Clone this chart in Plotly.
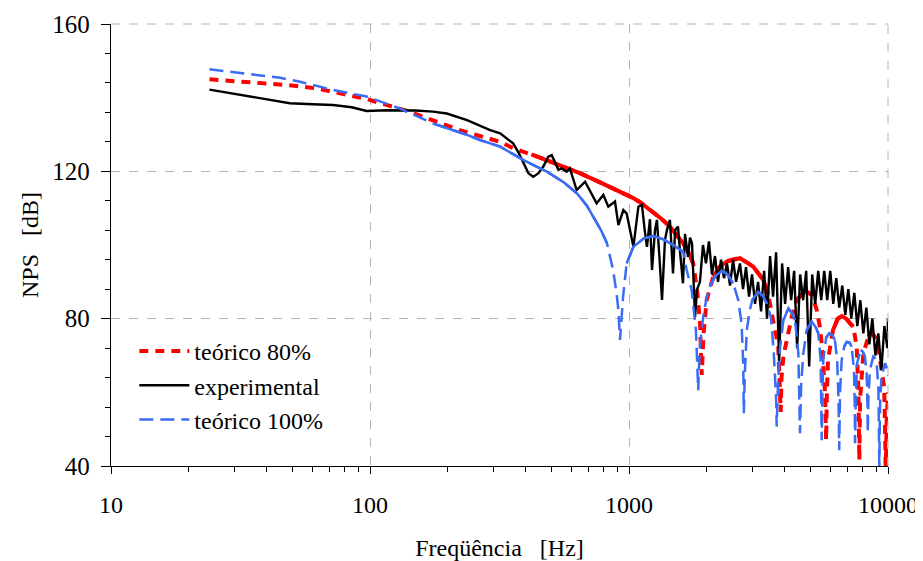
import math
import plotly.graph_objects as go

# ---------------- data ----------------
red_f = [24, 37.6, 50, 62.4, 80, 97.3, 139, 180, 222, 266, 318, 357, 420, 480, 560, 646, 773, 867, 923,
         1035, 1103, 1240, 1340, 1439, 1530, 1616, 1700, 1770, 1830, 1880, 1909, 1940, 1995, 2115, 2245,
         2400, 2564, 2683, 2890, 3020, 3302, 3450, 3556, 3700, 3770, 3852, 3880, 3950, 4064, 4250, 4440,
         4786, 5090, 5310, 5450, 5546, 5717, 5768, 5800, 5866, 6133, 6400, 6640, 6900, 7130, 7345, 7570,
         7680, 7750, 7800, 8035, 8400, 8650, 8990, 9311, 9660, 9730, 9800, 9880, 10000]
red_db = [145.0, 144.1, 143.3, 142.5, 141.0, 139.6, 136.4, 133.6, 131.2, 129.6, 128.0, 126.3, 124.6, 123.1,
          121.2, 119.5, 117.0, 115.3, 114.6, 112.8, 111.6, 108.9, 107.0, 105.0, 102.8, 100.5, 98.0, 95.0,
          88.0, 79.0, 64.7, 76.0, 85.1, 91.4, 94.1, 95.6, 96.2, 96.4, 95.0, 94.1, 90.5, 86.5, 81.5, 76.0,
          72.4, 54.7, 64.0, 70.0, 74.2, 80.5, 85.1, 87.5, 86.5, 82.3, 78.0, 73.3, 59.7, 47.0, 58.0, 68.8,
          76.9, 80.0, 80.7, 80.0, 78.8, 77.8, 72.4, 61.5, 41.6, 58.0, 70.6, 75.1, 76.3, 74.5, 68.8, 61.5,
          52.5, 38.0, 52.0, 60.0]

blue_f = [24, 34.4, 45, 53.7, 72, 97, 130, 175, 237, 266, 318, 390, 482, 560, 630, 690, 726, 780, 822, 868,
          895, 910, 923, 949, 979, 1040, 1142, 1239, 1350, 1482, 1618, 1670, 1745, 1770, 1813, 1850, 1875,
          1934, 1990, 2051, 2150, 2285, 2400, 2525, 2640, 2720, 2760, 2775, 2800, 2850, 2920, 2990, 3148,
          3280, 3400, 3530, 3620, 3700, 3717, 3760, 3828, 3945, 4125, 4260, 4374, 4508, 4545, 4572, 4620,
          4710, 4853, 5073, 5250, 5383, 5495, 5530, 5546, 5580, 5625, 5773, 5935, 6100, 6237, 6364, 6440,
          6480, 6530, 6625, 6780, 6925, 7100, 7240, 7390, 7440, 7460, 7520, 7600, 7834, 8000, 8140, 8270,
          8330, 8350, 8400, 8515, 8770, 8930, 9040, 9180, 9230, 9260, 9290, 9330, 9440, 9730, 9900, 10000]
blue_db = [147.7, 146.4, 145.4, 144.3, 142.1, 140.3, 137.1, 133.0, 129.9, 128.5, 126.7, 123.1, 119.9, 117.0,
           114.0, 110.5, 107.7, 104.0, 100.5, 93.2, 87.0, 82.3, 74.2, 86.0, 95.0, 99.5, 101.8, 102.4, 101.6,
           100.0, 98.2, 93.2, 87.8, 83.2, 76.9, 60.6, 72.0, 80.5, 85.5, 88.7, 91.5, 93.0, 92.0, 89.6, 85.1,
           78.7, 68.0, 54.3, 65.0, 76.9, 82.0, 85.0, 87.3, 86.3, 84.2, 80.5, 71.0, 58.0, 50.7, 62.0, 72.0,
           79.6, 82.8, 81.5, 79.6, 70.6, 60.0, 48.9, 62.0, 70.6, 76.9, 79.2, 77.8, 76.0, 68.8, 60.0, 47.0,
           60.0, 68.8, 74.9, 76.0, 75.5, 74.2, 68.8, 58.0, 44.3, 60.0, 68.8, 72.5, 73.7, 73.5, 72.4, 66.1,
           56.0, 46.2, 60.0, 67.9, 71.5, 71.0, 69.7, 65.2, 57.0, 49.0, 58.0, 66.1, 69.7, 69.2, 67.9, 61.5,
           48.0, 38.0, 50.0, 58.0, 64.2, 67.9, 66.5, 64.5]

exp_f = [24, 34.4, 49, 60, 72, 85, 97, 116, 150, 175, 198, 237, 291, 318, 340, 357, 375, 391, 409, 427, 447,
         467, 488, 503, 518, 534, 550, 575, 591, 628, 677, 718, 750, 796, 832, 883, 910, 951, 980, 1009,
         1040, 1087, 1122, 1150, 1173, 1205, 1227, 1260, 1282, 1310, 1341, 1377, 1402, 1439, 1479, 1507,
         1546, 1575, 1616, 1645, 1690, 1720, 1751, 1799, 1832,
         1879, 1930, 1982, 2036, 2091, 2148, 2206, 2266, 2327, 2390, 2455, 2522, 2590, 2660,
         2683, 2756, 2830, 2907, 2986, 3067, 3150, 3235, 3323, 3413, 3505, 3600, 3698, 3798, 3901, 4007,
         4115, 4227, 4341, 4459, 4580, 4704, 4832, 4963, 5097, 5235, 5377, 5523, 5673, 5826, 5984, 6147,
         6313, 6484, 6660, 6841, 7026, 7216, 7412, 7613, 7819, 8031, 8249, 8472, 8702, 8937, 9179, 9428,
         9684, 9946, 10000]
exp_db = [142.2, 140.3, 138.5, 138.2, 138.0, 137.4, 136.4, 136.6, 136.5, 136.2, 135.7, 133.9, 131.2, 130.3,
          128.8, 127.6, 125.0, 122.2, 119.5, 118.5, 119.5, 121.3, 124.0, 124.4, 122.6, 120.4, 120.8, 119.9,
          120.8, 114.9, 117.2, 113.6, 111.3, 113.6, 110.4, 111.8, 105.4, 109.5, 108.5, 104.1,
          99.5, 110.4, 110.9, 104.0, 99.5, 107.0, 93.2, 104.0, 106.8, 97.0, 85.1, 101.4, 104.1, 106.8, 92.3,
          104.0, 105.0, 98.0, 89.6, 103.0, 96.8, 102.0, 100.5, 80.5, 88.0,
          90.0, 100.0, 95.0, 101.0, 92.0, 97.0, 90.0, 96.0, 91.0, 95.0, 89.0, 96.0, 90.0, 94.0,
          95.0, 88.0, 94.0, 86.0, 92.0, 84.0, 90.0, 82.0, 93.0, 80.0, 97.0, 86.0, 98.0, 68.0, 95.0, 84.0,
          94.0, 85.0, 93.0, 72.0, 92.0, 85.0, 93.0, 67.0, 92.0, 84.0, 93.0, 85.0, 93.0, 85.0, 93.0, 84.0,
          91.0, 83.0, 89.0, 81.0, 88.0, 80.0, 87.0, 78.0, 85.0, 76.0, 83.0, 73.0, 80.0, 70.0, 76.0, 66.0,
          78.0, 72.0, 80.0]

x_ticks = [10, 100, 1000, 10000]
x_minor = [20, 30, 40, 50, 60, 70, 80, 90, 200, 300, 400, 500, 600, 700, 800, 900,
           2000, 3000, 4000, 5000, 6000, 7000, 8000, 9000]
y_ticks = [40, 80, 120, 160]

RED = "#ff0000"
BLUE = "#3a6cf4"
FONT = "Liberation Serif"
GRID = "#b4b4b4"


def solid_runs(fs, ds, fmin, max_ratio=3.0):
    """Return x/y (with None gaps) of the gently sloping parts of a curve."""
    xs, ys = [], []
    last = False
    for i in range(len(fs) - 1):
        dx = 259 * abs(math.log10(fs[i + 1]) - math.log10(fs[i]))
        dy = 3.683 * abs(ds[i + 1] - ds[i])
        ok = fs[i] >= fmin and dy <= max_ratio * dx
        if ok:
            if not last:
                if xs:
                    xs.append(None)
                    ys.append(None)
                xs.append(fs[i])
                ys.append(ds[i])
            xs.append(fs[i + 1])
            ys.append(ds[i + 1])
        last = ok
    return xs, ys


fig = go.Figure()

fig.add_trace(go.Scatter(x=red_f, y=red_db, mode="lines", name="teórico 80%",
                         line=dict(color=RED, width=4, dash="9px,7px")))
rx, ry = solid_runs(red_f, red_db, 370)
fig.add_trace(go.Scatter(x=rx, y=ry, mode="lines", showlegend=False, hoverinfo="skip",
                         line=dict(color=RED, width=4)))
fig.add_trace(go.Scatter(x=exp_f, y=exp_db, mode="lines", name="experimental",
                         line=dict(color="black", width=2.4)))
fig.add_trace(go.Scatter(x=blue_f, y=blue_db, mode="lines", name="teórico 100%",
                         line=dict(color=BLUE, width=2.5, dash="14px,7px")))
bx, by = solid_runs(blue_f, blue_db, 170)
fig.add_trace(go.Scatter(x=bx, y=by, mode="lines", showlegend=False, hoverinfo="skip",
                         line=dict(color=BLUE, width=2.5)))

# page body has an 8px margin, so the figure is 8px smaller and margins shifted
fig.update_layout(
    width=915, height=553,
    margin=dict(l=103, r=35, t=16, b=95, autoexpand=False),
    paper_bgcolor="white", plot_bgcolor="white",
    font=dict(family=FONT, size=24, color="black"),
    showlegend=True,
    legend=dict(x=0.03, y=0.31, xanchor="left", yanchor="top",
                bgcolor="rgba(0,0,0,0)", font=dict(family=FONT, size=24),
                tracegroupgap=0, itemwidth=50),
    shapes=[
        dict(type="line", xref="paper", yref="paper", x0=0, x1=1, y0=1, y1=1,
             line=dict(color=GRID, width=1, dash="dash")),
        dict(type="line", xref="paper", yref="paper", x0=1, x1=1, y0=0, y1=1,
             line=dict(color=GRID, width=1, dash="dash")),
    ],
)
fig.update_xaxes(
    type="log", range=[1, 4], automargin=False,
    tickmode="array", tickvals=x_ticks, ticktext=[str(v) for v in x_ticks],
    ticks="outside", ticklen=7, tickcolor="black", tickwidth=1,
    ticklabelstandoff=10, tickfont=dict(family=FONT, size=24),
    showline=True, linecolor="black", linewidth=1.3,
    showgrid=True, gridcolor=GRID, griddash="dash", gridwidth=1,
    zeroline=False,
    minor=dict(tickmode="array", tickvals=x_minor, ticks="outside", ticklen=5,
               tickcolor="black", showgrid=False),
    title=dict(text="Freqüência\u00a0\u00a0\u00a0[Hz]", standoff=22,
               font=dict(family=FONT, size=24)),
)
fig.update_yaxes(
    range=[40, 160], tickmode="array", tickvals=y_ticks, automargin=False,
    ticks="outside", ticklen=9, tickcolor="black", tickwidth=1,
    ticklabelstandoff=6, tickfont=dict(family=FONT, size=25),
    showline=True, linecolor="black", linewidth=1.3,
    showgrid=True, gridcolor=GRID, griddash="dash", gridwidth=1,
    zeroline=False,
    minor=dict(tick0=40, dtick=8, ticks="outside", ticklen=5, tickcolor="black",
               showgrid=False),
    title=dict(text="NPS\u00a0\u00a0\u00a0[dB]", standoff=6,
               font=dict(family=FONT, size=24)),
)

fig.write_html("out.html")
